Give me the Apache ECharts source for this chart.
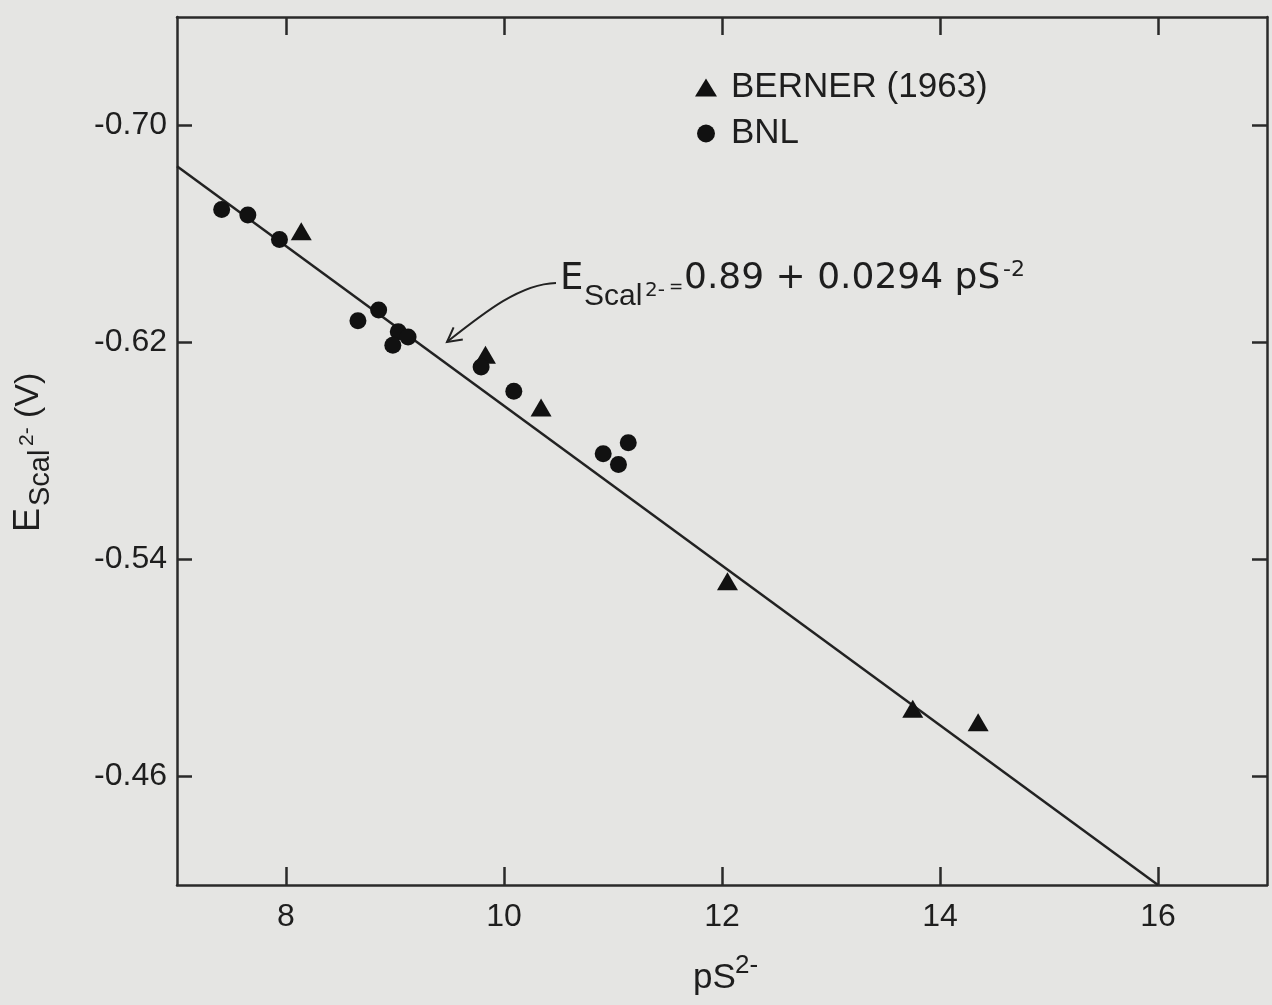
<!DOCTYPE html>
<html>
<head>
<meta charset="utf-8">
<script src="https://cdn.jsdelivr.net/npm/echarts@6/dist/echarts.min.js"></script>
<style>
html,body{margin:0;padding:0;background:#e5e5e3;}
#chart{width:1272px;height:1005px;}
</style>
</head>
<body>
<div id="chart"></div>
<script>
// ---- data ----
const xTicks = [8, 10, 12, 14, 16];
const yTicks = [-0.70, -0.62, -0.54, -0.46];

const bnlX = [7.41, 7.65, 7.94, 8.66, 8.85, 9.03, 9.12, 8.98, 9.79, 10.09, 10.91, 11.05, 11.14];
const bnlY = [-0.669, -0.667, -0.658, -0.628, -0.632, -0.624, -0.622, -0.619, -0.611, -0.602, -0.579, -0.575, -0.583];

const bernerX = [8.14, 9.83, 10.34, 12.05, 13.75, 14.35];
const bernerY = [-0.661, -0.6155, -0.596, -0.532, -0.485, -0.480];

const fitX = [7, 16];
const fitY = [-0.685, -0.420];

const seriesNames = ['BERNER (1963)', 'BNL'];

// ---- build ----
const zip = (xs, ys) => xs.map((x, i) => [x, ys[i]]);
const INK = '#1e1e1e';
const FONT = '"Liberation Sans", Arial, sans-serif';
const EQFONT = '"DejaVu Sans", sans-serif';

const chart = echarts.init(document.getElementById('chart'), null, {renderer: 'canvas'});

const axisLine = {show: true, onZero: false, lineStyle: {color: '#2a2a2a', width: 2.5}};
const tickStyle = {color: '#2a2a2a', width: 2.5};

function txt(text, x, y, size, family, rot) {
  return {
    type: 'text', x: x, y: y, rotation: rot || 0, silent: true,
    style: {
      text: text, fill: INK, font: size + 'px ' + family,
      align: 'left', verticalAlign: 'middle',
      textAlign: 'left', textVerticalAlign: 'middle'
    }
  };
}

const R = Math.PI / 2;

const option = {
  backgroundColor: '#e5e5e3',
  animation: false,
  grid: {left: 177, right: 5, top: 17, bottom: 120, containLabel: false},
  legend: {
    orient: 'vertical', left: 690, top: 65,
    itemWidth: 22, itemHeight: 18, itemGap: 11,
    data: seriesNames,
    textStyle: {fontSize: 35, fontFamily: FONT, color: INK, padding: [0, 0, 0, 9]},
    selectedMode: false
  },
  xAxis: [
    {
      type: 'value', min: 7, max: 17, position: 'bottom',
      axisLine: axisLine,
      axisTick: {show: true, inside: true, length: 18, customValues: xTicks, lineStyle: tickStyle},
      axisLabel: {show: true, customValues: xTicks, margin: 16, fontSize: 32, fontFamily: FONT, color: INK},
      splitLine: {show: false}
    },
    {
      type: 'value', min: 7, max: 17, position: 'top',
      axisLine: axisLine,
      axisTick: {show: true, inside: true, length: 18, customValues: xTicks, lineStyle: tickStyle},
      axisLabel: {show: false},
      splitLine: {show: false}
    }
  ],
  yAxis: [
    {
      type: 'value', min: -0.74, max: -0.42, inverse: true, position: 'left',
      axisLine: axisLine,
      axisTick: {show: true, inside: true, length: 15, customValues: yTicks, lineStyle: tickStyle},
      axisLabel: {show: true, customValues: yTicks, margin: 10, fontSize: 32, fontFamily: FONT, color: INK,
        formatter: v => Number(v).toFixed(2)},
      splitLine: {show: false}
    },
    {
      type: 'value', min: -0.74, max: -0.42, inverse: true, position: 'right',
      axisLine: axisLine,
      axisTick: {show: true, inside: true, length: 15, customValues: yTicks, lineStyle: tickStyle},
      axisLabel: {show: false},
      splitLine: {show: false}
    }
  ],
  series: [
    {
      name: 'fit', type: 'line', data: zip(fitX, fitY), xAxisIndex: 0, yAxisIndex: 0,
      showSymbol: false, symbol: 'none', z: 1, silent: true,
      lineStyle: {color: '#222', width: 2.5}
    },
    {
      name: seriesNames[0], type: 'scatter', data: zip(bernerX, bernerY), xAxisIndex: 0, yAxisIndex: 0,
      symbol: 'triangle', symbolSize: [21, 18], z: 3,
      itemStyle: {color: '#111', opacity: 1}
    },
    {
      name: seriesNames[1], type: 'scatter', data: zip(bnlX, bnlY), xAxisIndex: 0, yAxisIndex: 0,
      symbol: 'circle', symbolSize: 17, z: 3,
      itemStyle: {color: '#111', opacity: 1}
    }
  ],
  graphic: [
    // equation annotation
    txt('E', 560, 279, 37, EQFONT),
    txt('Scal', 584, 297, 30, FONT),
    txt('2-', 645, 291, 20, EQFONT),
    txt('=', 669, 288, 17, EQFONT),
    txt('0.89 + 0.0294 pS', 684, 279, 36, EQFONT),
    txt('-2', 1003, 270, 22, EQFONT),
    {
      type: 'bezierCurve', silent: true,
      shape: {x1: 556, y1: 283, cpx1: 520, cpy1: 284, cpx2: 485, cpy2: 312, x2: 447, y2: 342},
      style: {stroke: '#222', lineWidth: 2, fill: null}
    },
    {
      type: 'polyline', silent: true,
      shape: {points: [[453.6, 327.4], [447, 342], [462.8, 339.4]]},
      style: {stroke: '#222', lineWidth: 2, fill: null}
    },
    // y axis title (rotated)
    txt('E', 29, 532, 36, FONT, R),
    txt('Scal', 41, 506, 29, FONT, R),
    txt('2-', 27, 446, 21, FONT, R),
    txt('(V)', 29, 418, 34, FONT, R),
    // x axis title
    txt('pS', 693, 978, 35, FONT),
    txt('2-', 735, 966, 26, FONT)
  ]
};

chart.setOption(option);
</script>
</body>
</html>
